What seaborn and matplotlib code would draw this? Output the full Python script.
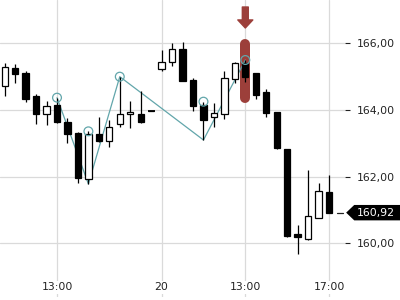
import numpy as np
import pandas as pd
import matplotlib
matplotlib.use("Agg")
import matplotlib.pyplot as plt
from matplotlib.path import Path
from matplotlib.ticker import FuncFormatter
import seaborn as sns

# ---- data ----
opens = [164.72, 165.26, 165.11, 164.41, 163.87, 164.14, 163.64, 163.32, 161.92, 163.28,
         163.06, 163.57, 163.88, 163.88, 163.97, 165.23, 165.43, 165.83, 164.90, 164.15,
         163.78, 163.87, 164.94, 165.40, 165.12, 164.54, 163.93, 162.82, 160.28, 160.12,
         160.75, 161.54]
highs = [165.42, 165.37, 165.18, 164.48, 164.27, 164.37, 163.76, 163.34, 163.36, 163.78,
         163.70, 165.00, 164.27, 164.57, 163.97, 165.80, 166.02, 166.05, 164.97, 164.25,
         164.22, 165.17, 165.43, 165.50, 165.12, 164.62, 163.93, 162.82, 160.55, 162.20,
         161.82, 162.04]
lows = [164.43, 164.80, 164.25, 163.58, 163.56, 163.60, 163.02, 161.82, 161.78, 163.05,
        162.88, 163.50, 163.47, 163.60, 163.97, 165.18, 165.33, 164.86, 163.98, 163.10,
        163.50, 163.72, 164.80, 164.85, 164.32, 163.78, 162.84, 160.20, 159.68, 160.09,
        160.75, 160.92]
closes = [165.28, 165.08, 164.33, 163.87, 164.11, 163.63, 163.29, 161.95, 163.28, 163.08,
          163.48, 163.88, 163.94, 163.65, 163.97, 165.43, 165.83, 164.88, 164.12, 163.70,
          163.90, 164.95, 165.41, 165.00, 164.46, 163.92, 162.87, 160.23, 160.18, 160.82,
          161.58, 160.92]

x_tick_pos = [5, 15, 23, 31]
x_tick_labels = ["13:00", "20", "13:00", "17:00"]
y_ticks = [160, 162, 164, 166]

zigzag_idx = [5, 8, 11, 19, 23]
zigzag_val = [164.37, 161.78, 165.00, 163.10, 165.50]
pivot_idx = [5, 8, 11, 19, 23]
pivot_val = [164.37, 163.36, 165.00, 164.25, 165.50]

signal_idx = 23
signal_low, signal_high = 164.36, 165.98
arrow_tail, arrow_tip = 167.09, 166.46
last_price = 160.92

# ---- style ----
sns.set_theme(style="white")
plt.rcParams['font.family'] = ['DejaVu Sans']
TEXT = "#222222"
GRID = "#dadada"
TEAL = "#62a6ab"
RED = "#9c3f3a"

fig = plt.figure(figsize=(4, 3), dpi=100)
ax = fig.add_axes([0, 3 / 300, 345 / 400, 297 / 300])
ax.set_xlim(-0.45, 32.53)
ax.set_ylim(158.39, 167.30)

for s in ax.spines.values():
    s.set_visible(False)

ax.set_xticks(x_tick_pos)
ax.set_xticklabels(x_tick_labels)
ax.set_yticks(y_ticks)
ax.yaxis.set_major_formatter(FuncFormatter(lambda v, p: f"{v:.2f}".replace(".", ",")))
ax.yaxis.tick_right()
ax.grid(True, color=GRID, linewidth=0.9, zorder=0)
ax.set_axisbelow(True)

ax.tick_params(axis="x", direction="in", length=2.9, width=0.8, color=TEXT,
               labelsize=7.8, labelcolor=TEXT, pad=-10.5)
ax.tick_params(axis="y", direction="out", length=3.6, width=0.8, color=TEXT,
               labelsize=7.8, labelcolor=TEXT, pad=5, right=True, left=False)
for lbl in ax.get_xticklabels():
    lbl.set_bbox(dict(fc="white", ec="none", pad=1))

df = pd.DataFrame({"i": np.arange(len(opens)), "o": opens, "h": highs, "l": lows, "c": closes})

# signal pill
ax.plot([signal_idx, signal_idx], [signal_low, signal_high], color=RED,
        linewidth=7.2, solid_capstyle="round", zorder=2)
ax.annotate("", xy=(signal_idx, arrow_tip), xytext=(signal_idx, arrow_tail),
            arrowprops=dict(arrowstyle="simple,head_width=10.8,head_length=5.8,tail_width=4.3",
                            mutation_scale=1, color=RED, shrinkA=0, shrinkB=0), zorder=3)

# zigzag
zz = pd.DataFrame({"x": zigzag_idx, "y": zigzag_val})
sns.lineplot(data=zz, x="x", y="y", sort=False, color=TEAL, linewidth=0.9, ax=ax, zorder=3)

# candles
ax.vlines(df["i"], df["l"], df["h"], color="black", linewidth=0.9, zorder=4)
up = df["c"] >= df["o"]
body_bottom = np.minimum(df["o"], df["c"])
body_h = np.abs(df["c"] - df["o"])
ax.bar(df["i"][up], body_h[up], bottom=body_bottom[up], width=0.6,
       color="white", edgecolor="black", linewidth=0.9, zorder=5)
ax.bar(df["i"][~up], body_h[~up], bottom=body_bottom[~up], width=0.6,
       color="black", edgecolor="black", linewidth=0.9, zorder=5)
doji = df[df["o"] == df["c"]]
ax.hlines(doji["o"], doji["i"] - 0.33, doji["i"] + 0.33, color="black", linewidth=1.3, zorder=5)

# pivot circles
pv = pd.DataFrame({"x": pivot_idx, "y": pivot_val})
sns.scatterplot(data=pv, x="x", y="y", ax=ax, s=40, facecolor="none",
                edgecolor=TEAL, linewidth=0.9, zorder=6)

ax.set_xlabel("")
ax.set_ylabel("")

# last price tag
def tag_box(x0, y0, width, height, mutation_size):
    pad = mutation_size * 0.25
    x0, y0 = x0 - pad, y0 - pad
    width, height = width + 2 * pad, height + 2 * pad
    x1, y1 = x0 + width + 20, y0 + height
    h = height / 2
    return Path([(x0, y0), (x1, y0), (x1, y1), (x0, y1), (x0 - h * 1.05, y0 + h), (x0, y0)],
                closed=True)

ytr = ax.get_yaxis_transform()
ax.plot([0.977, 0.994], [last_price, last_price], color=TEXT, linewidth=0.9,
        transform=ytr, clip_on=False)
ax.annotate(f"{last_price:.2f}".replace(".", ","), xy=(1, last_price), xycoords=ytr,
            xytext=(8.6, 0), textcoords="offset points", ha="left", va="center",
            fontsize=7.8, color="white", annotation_clip=False,
            bbox=dict(boxstyle=tag_box, fc="black", ec="none"))

fig.savefig("out.png", dpi=100)
